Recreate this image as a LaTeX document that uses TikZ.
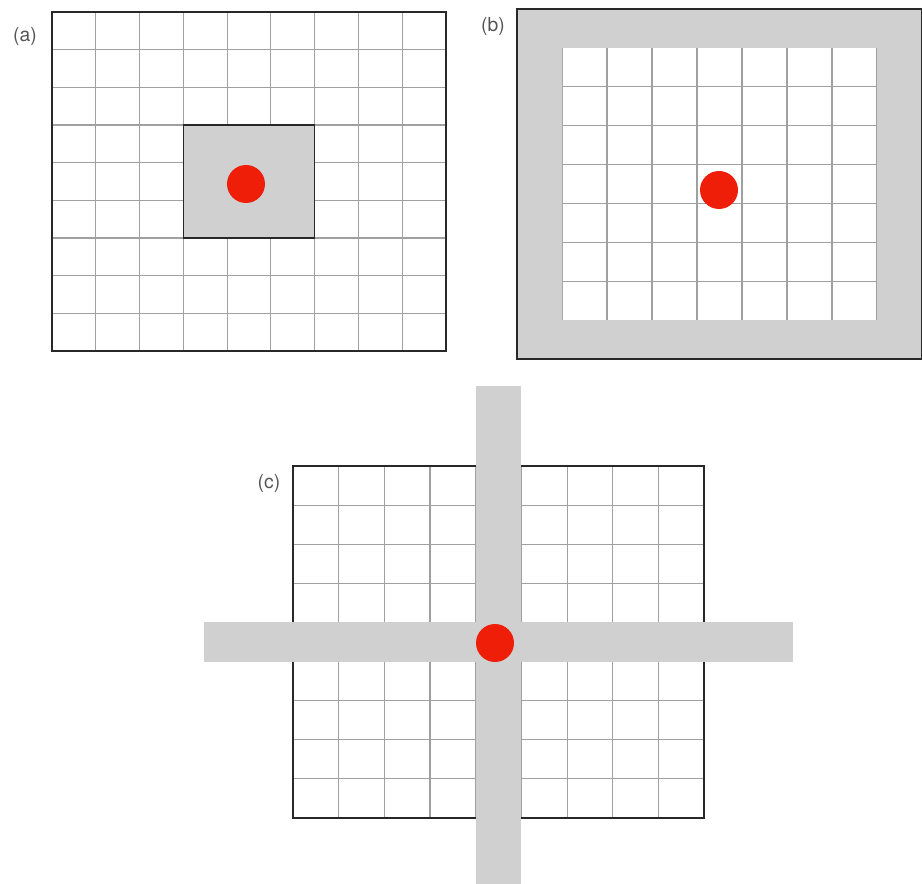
\documentclass[tikz,border=0pt]{standalone}
\usepackage{fontspec}
\setmainfont{TeX Gyre Heros}
\definecolor{cellgray}{RGB}{208,208,208}
\definecolor{dotred}{RGB}{238,30,8}
\definecolor{gridgray}{RGB}{160,160,160}
\definecolor{framegray}{RGB}{40,40,40}
\definecolor{lblgray}{RGB}{85,85,85}

\begin{document}
\begin{tikzpicture}[
  x=0.02cm, y=-0.02cm,
  gridln/.style={gridgray, line width=0.6pt},
  frame/.style={draw=framegray, line width=1.1pt},
  band/.style={fill=cellgray, draw=none},
  spot/.style={circle, fill=dotred, inner sep=0pt, minimum size=0.76cm},
  panel/.style={font=\fontsize{11}{13}\selectfont, text=lblgray, inner sep=0pt},
]
\useasboundingbox (0,0) rectangle (922,884);
\clip (0,0) rectangle (922,884);

% (a) local gray block around the red cell
\fill[white] (52,12) rectangle (446,351);
\foreach \i in {1,...,8} {
  \draw[gridln] ({52+\i*43.78},12) -- ({52+\i*43.78},351);
  \draw[gridln] (52,{12+\i*37.67}) -- (446,{12+\i*37.67});
}
\draw[band, frame, line width=0.9pt] (183.3,125) rectangle (314.7,238);
\node[spot] (dotA) at (246,184) {};
\draw[frame] (52,12) rectangle (446,351);
\node[panel] (lblA) at (25,37) {(a)};

% (b) gray ring along the border
\foreach \i in {1,...,8} {
  \draw[gridln] ({517+\i*45},9) -- ({517+\i*45},359);
  \draw[gridln] (517,{9+\i*38.89}) -- (922,{9+\i*38.89});
}
\fill[cellgray, even odd rule] (517,9) rectangle (922,359)
  (562,47.9) rectangle (877,320.1);
\node[spot] (dotB) at (719,190) {};
\draw[frame] (517,9) rectangle (922,359);
\node[panel] (lblB) at (493,27) {(b)};

% (c) cross-shaped bands through the red cell
\foreach \i in {1,...,8} {
  \draw[gridln] ({293+\i*45.67},466) -- ({293+\i*45.67},818);
  \draw[gridln] (293,{466+\i*39.11}) -- (704,{466+\i*39.11});
}
\draw[frame] (293,466) rectangle (704,818);
\fill[band] (475.7,386) rectangle (521.3,884);
\fill[band] (204,622.4) rectangle (793,661.6);
\node[spot] (dotC) at (495,643) {};
\node[panel] (lblC) at (269,484) {(c)};

\end{tikzpicture}
\end{document}
